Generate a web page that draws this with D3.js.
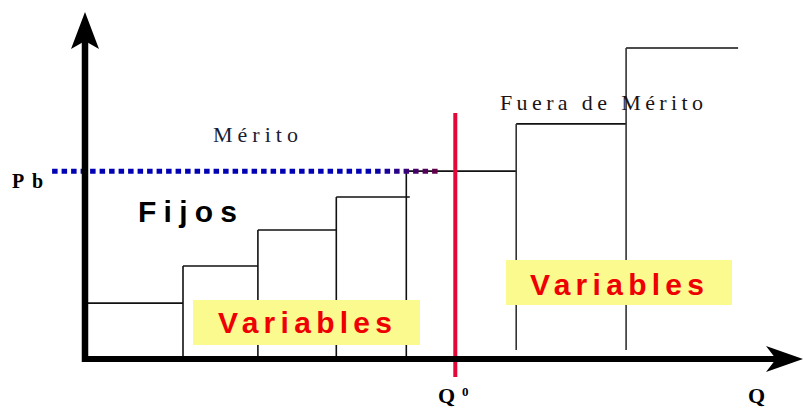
<!DOCTYPE html>
<html>
<head>
<meta charset="utf-8">
<script src="https://cdn.jsdelivr.net/npm/d3@7"></script>
<style>
  body { margin: 0; background: #fff; }
  svg { display: block; }
</style>
</head>
<body>
<div id="chart"></div>
<script>
// Merit order curve - step supply chart
var svgWidth = 803;
var svgHeight = 408;

// Data (Q units along x, price units along y)
var stepStart = [0.03, 1.40, 2.47, 3.59, 4.59, 6.16, 7.73];
var stepEnd   = [1.40, 2.47, 3.59, 4.64, 6.16, 7.73, 9.33];
var stepPrice = [1.54, 2.60, 3.63, 4.57, 5.31, 6.66, 8.83];
var pb = 5.31;   // marginal price
var q0 = 5.29;   // matched quantity

var svg = d3.select("#chart")
    .append("svg")
    .attr("width", svgWidth)
    .attr("height", svgHeight);

var xScale = d3.scaleLinear().domain([0, 10]).range([85, 785]);
var yScale = d3.scaleLinear().domain([0, 10]).range([357, 7]);

var defs = svg.append("defs");
var grad = defs.append("linearGradient")
    .attr("id", "pbGrad")
    .attr("gradientUnits", "userSpaceOnUse")
    .attr("x1", xScale(-0.5)).attr("x2", xScale(q0 - 0.2))
    .attr("y1", 0).attr("y2", 0);
grad.append("stop").attr("offset", "0.82").attr("stop-color", "#0000b4");
grad.append("stop").attr("offset", "1").attr("stop-color", "#6a0040");

// steps
var steps = stepStart.map(function(s, i) {
    return {x0: s, x1: stepEnd[i], p: stepPrice[i]};
});

var stepGroup = svg.append("g")
    .attr("stroke", "#111")
    .attr("stroke-width", 1.6)
    .attr("fill", "none");

stepGroup.selectAll(".h")
    .data(steps)
    .enter()
    .append("line")
    .attr("x1", d => xScale(d.x0))
    .attr("x2", d => xScale(d.x1))
    .attr("y1", d => yScale(d.p))
    .attr("y2", d => yScale(d.p));

stepGroup.selectAll(".v")
    .data(steps.slice(1))
    .enter()
    .append("line")
    .attr("x1", d => xScale(d.x0))
    .attr("x2", d => xScale(d.x0))
    .attr("y1", d => yScale(d.p))
    .attr("y2", d => d.x0 > q0 ? yScale(0.2) : yScale(0))
    .attr("stroke", d => d.x0 > q0 ? "#333" : "#111");

// yellow label boxes
function varBox(x, y, w, h, tx, ty) {
    svg.append("rect")
        .attr("x", x).attr("y", y)
        .attr("width", w).attr("height", h)
        .attr("fill", "#fafa8e");
    svg.append("text")
        .attr("x", tx).attr("y", ty)
        .attr("font-family", "'Liberation Sans', Arial, sans-serif")
        .attr("font-weight", "bold")
        .attr("font-size", 30)
        .attr("fill", "#ee0000")
        .attr("textLength", 174)
        .attr("lengthAdjust", "spacing")
        .text("Variables");
}
varBox(193, 300, 227, 45, 218, 333);
varBox(506, 260, 226, 45, 530, 295);

// Pb dotted line
svg.append("line")
    .attr("x1", xScale(-0.47))
    .attr("x2", xScale(q0 - 0.2))
    .attr("y1", yScale(pb))
    .attr("y2", yScale(pb))
    .attr("stroke", "url(#pbGrad)")
    .attr("stroke-width", 5)
    .attr("stroke-dasharray", "5.5,4");

// Q0 red line
svg.append("line")
    .attr("x1", xScale(q0)).attr("x2", xScale(q0))
    .attr("y1", yScale(6.97)).attr("y2", yScale(-0.57))
    .attr("stroke", "#e2083a")
    .attr("stroke-width", 4);

// axes
svg.append("line")
    .attr("x1", 82).attr("x2", 778)
    .attr("y1", 359).attr("y2", 359)
    .attr("stroke", "#000").attr("stroke-width", 6);
svg.append("path")
    .attr("d", "M803,359 L766,346 L776,359 L766,372 Z")
    .attr("fill", "#000");

svg.append("line")
    .attr("x1", 85).attr("x2", 85)
    .attr("y1", 362).attr("y2", 40)
    .attr("stroke", "#000").attr("stroke-width", 6.5);
svg.append("path")
    .attr("d", "M85,12 L99,49 L85,41 L71,49 Z")
    .attr("fill", "#000");

// labels
var serif = "'Liberation Serif', 'Times New Roman', serif";
var sans = "'Liberation Sans', Arial, sans-serif";

svg.append("text")
    .attr("x", 213).attr("y", 142)
    .attr("font-family", serif).attr("font-size", 22)
    .attr("fill", "#1c1c34")
    .attr("textLength", 85).attr("lengthAdjust", "spacing")
    .text("Mérito");

svg.append("text")
    .attr("x", 500).attr("y", 110)
    .attr("font-family", serif).attr("font-size", 22)
    .attr("fill", "#1c1414")
    .attr("textLength", 203).attr("lengthAdjust", "spacing")
    .text("Fuera de Mérito");

svg.append("text")
    .attr("x", 12).attr("y", 188)
    .attr("font-family", serif).attr("font-size", 20)
    .attr("font-weight", "bold")
    .attr("textLength", 31).attr("lengthAdjust", "spacing")
    .text("Pb");

svg.append("text")
    .attr("x", 138).attr("y", 222)
    .attr("font-family", sans).attr("font-size", 30)
    .attr("font-weight", "bold")
    .attr("textLength", 99).attr("lengthAdjust", "spacing")
    .text("Fijos");

svg.append("text")
    .attr("x", 438).attr("y", 403)
    .attr("font-family", serif).attr("font-size", 22)
    .attr("font-weight", "bold")
    .text("Q");
svg.append("text")
    .attr("x", 462).attr("y", 396)
    .attr("font-family", serif).attr("font-size", 13)
    .attr("font-weight", "bold")
    .text("0");

svg.append("text")
    .attr("x", 748).attr("y", 403)
    .attr("font-family", serif).attr("font-size", 22)
    .attr("font-weight", "bold")
    .text("Q");
</script>
</body>
</html>
